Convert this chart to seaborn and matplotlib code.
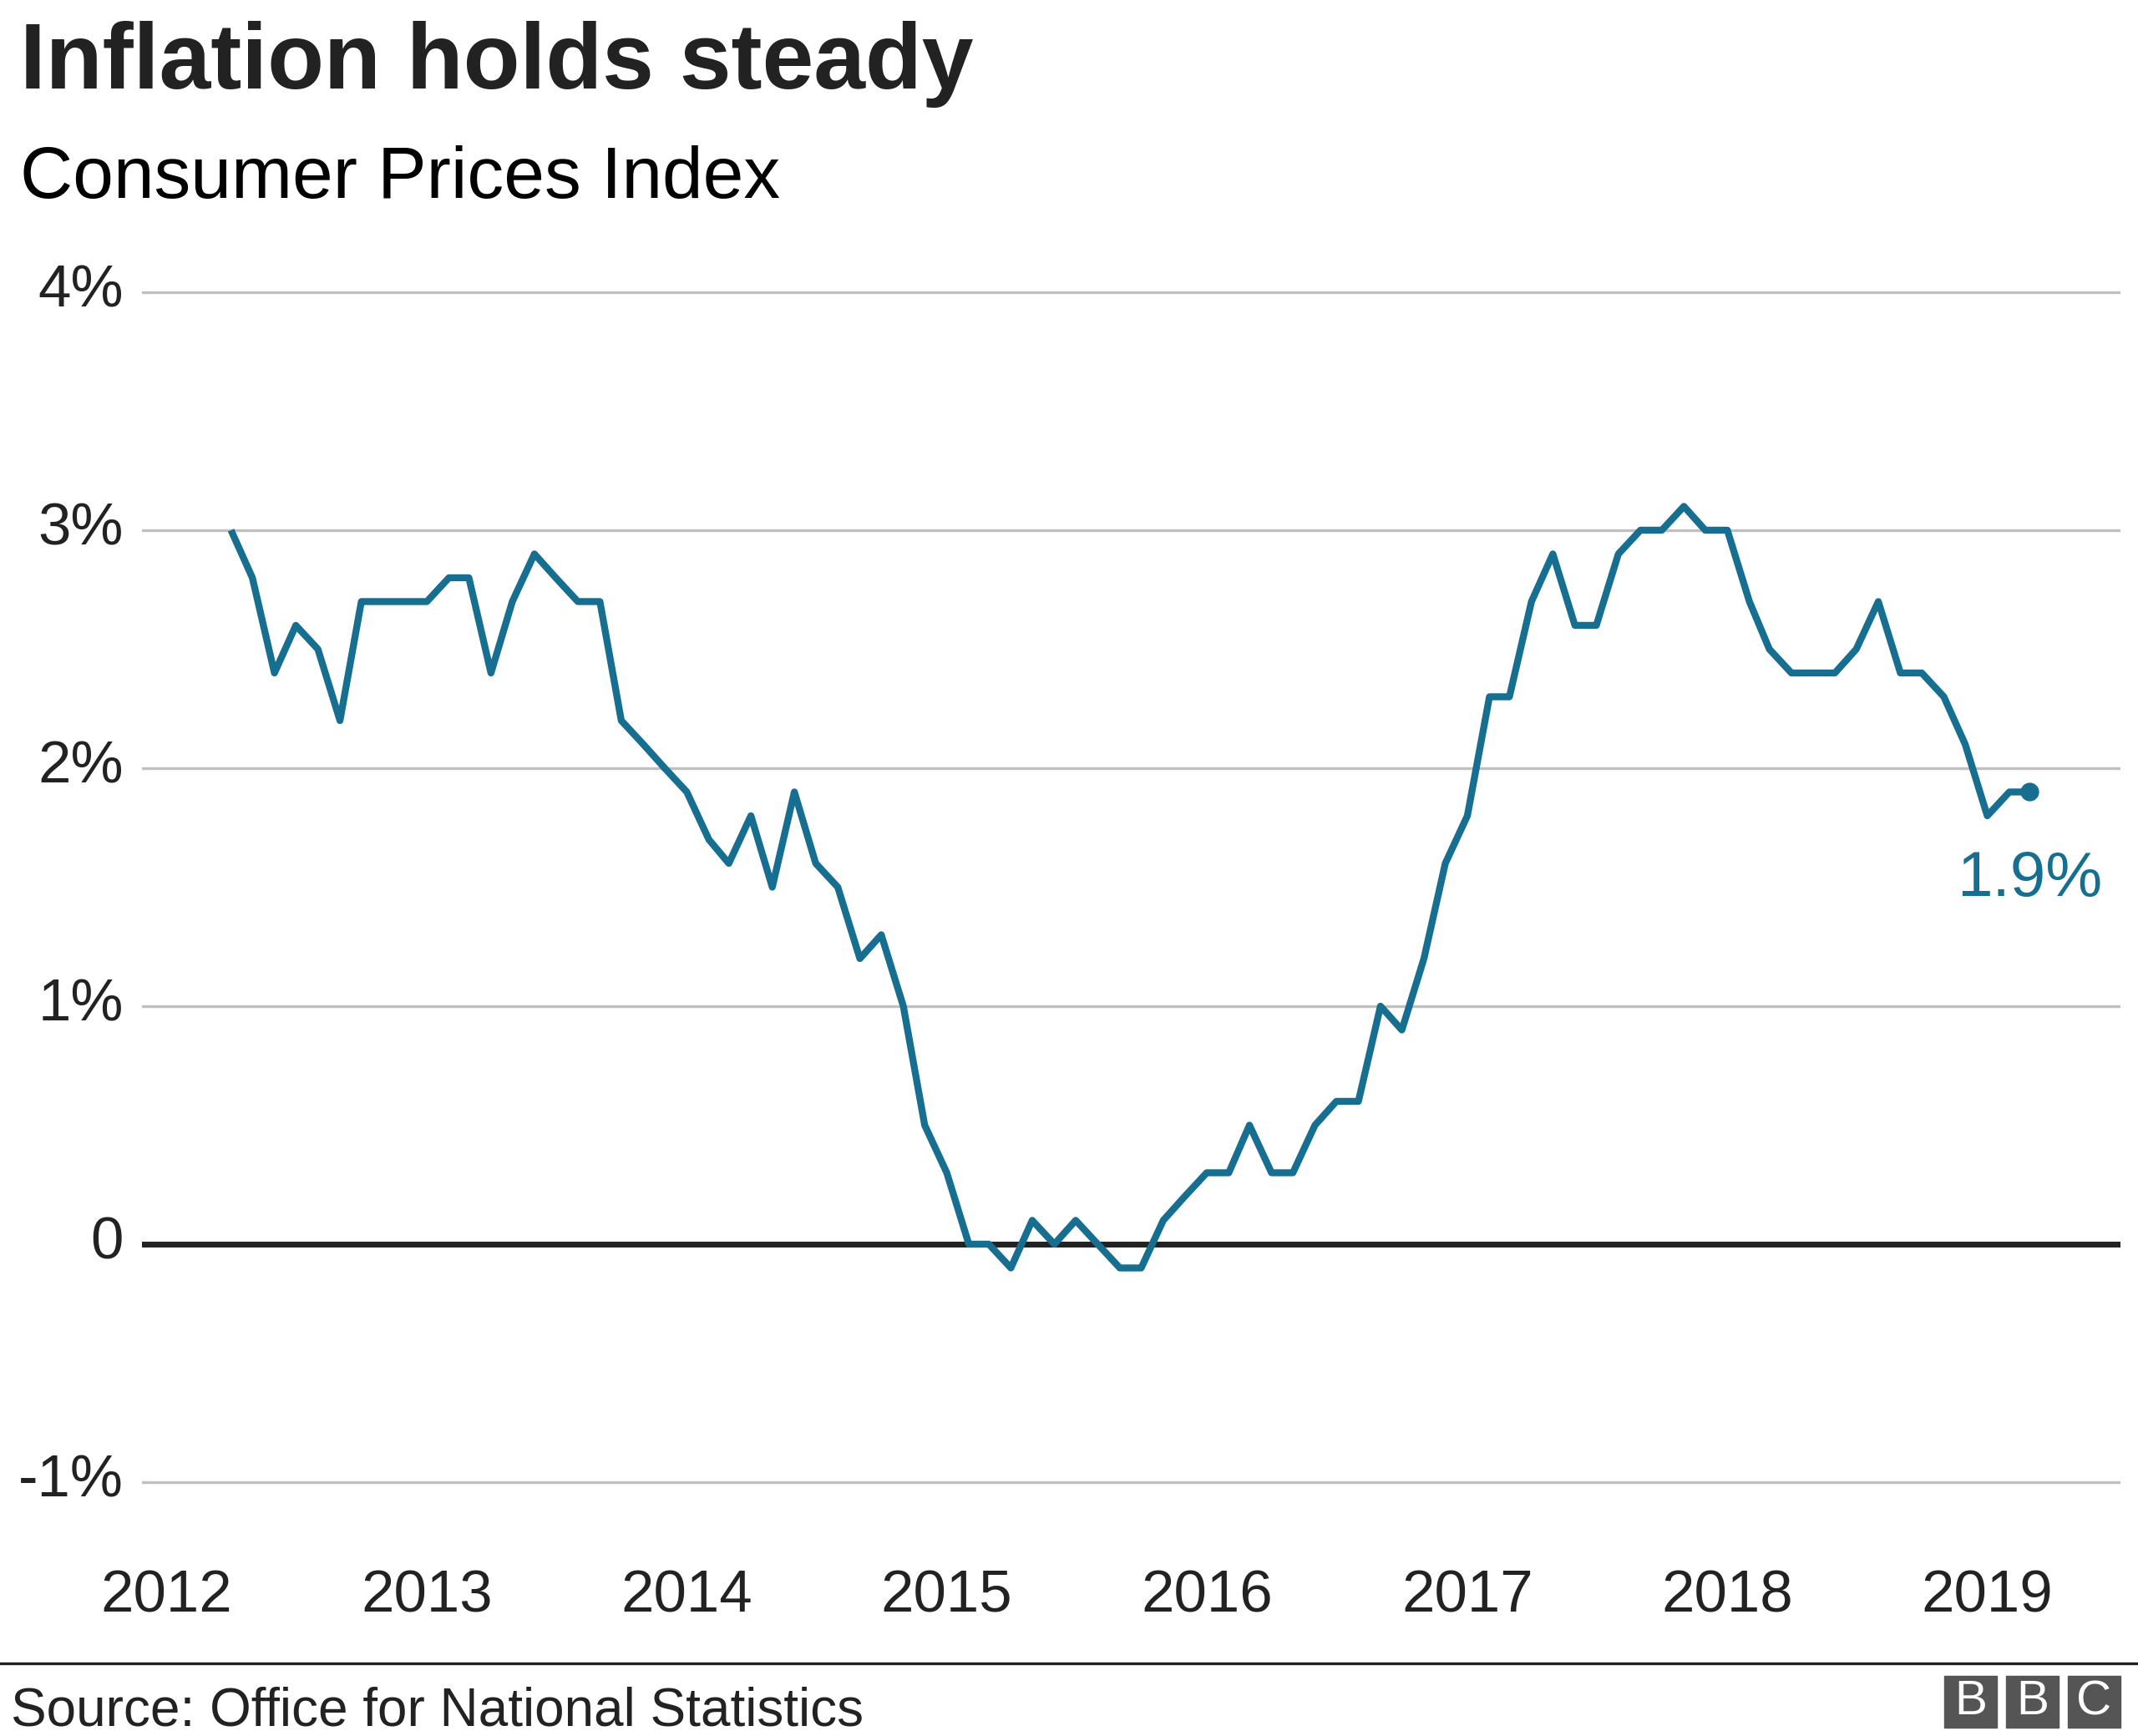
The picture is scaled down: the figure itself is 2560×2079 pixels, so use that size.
import numpy as np
import pandas as pd
import matplotlib.pyplot as plt
import seaborn as sns
from matplotlib.patches import Rectangle

# UK CPI, monthly, April 2012 - March 2019
cpi = [3.0, 2.8, 2.4, 2.6, 2.5, 2.2, 2.7, 2.7, 2.7,
       2.7, 2.8, 2.8, 2.4, 2.7, 2.9, 2.8, 2.7, 2.7, 2.2, 2.1, 2.0,
       1.9, 1.7, 1.6, 1.8, 1.5, 1.9, 1.6, 1.5, 1.2, 1.3, 1.0, 0.5,
       0.3, 0.0, 0.0, -0.1, 0.1, 0.0, 0.1, 0.0, -0.1, -0.1, 0.1, 0.2,
       0.3, 0.3, 0.5, 0.3, 0.3, 0.5, 0.6, 0.6, 1.0, 0.9, 1.2, 1.6,
       1.8, 2.3, 2.3, 2.7, 2.9, 2.6, 2.6, 2.9, 3.0, 3.0, 3.1, 3.0,
       3.0, 2.7, 2.5, 2.4, 2.4, 2.4, 2.5, 2.7, 2.4, 2.4, 2.3, 2.1,
       1.8, 1.9, 1.9]
months = pd.date_range('2012-04-01', periods=len(cpi), freq='MS')
years = [2012, 2013, 2014, 2015, 2016, 2017, 2018, 2019]
y_ticks = [-1, 0, 1, 2, 3, 4]
y_labels = ['-1%', '0', '1%', '2%', '3%', '4%']

df = pd.DataFrame({'month': months, 'cpi': cpi})

blue = '#166e91'
dark = '#222222'

sns.set_style('white')
plt.rcParams['font.family'] = ['Liberation Sans', 'DejaVu Sans']

fig = plt.figure(figsize=(25.6, 20.79), dpi=100)
ax = fig.add_axes([0.06641, 0.1051, 0.92539, 0.7403])

sns.lineplot(data=df, x='month', y='cpi', ax=ax, color=blue, linewidth=6,
             solid_joinstyle='round', solid_capstyle='butt', zorder=4)
last = df.iloc[-1]
ax.plot([last['month']], [last['cpi']], 'o', color=blue, markersize=15, zorder=5)
ax.annotate(f"{last['cpi']:.1f}%", xy=(last['month'], last['cpi']),
            xytext=(0, -50), textcoords='offset points', ha='center', va='top',
            fontsize=55, color=blue)

ax.axhline(0, color=dark, linewidth=5, zorder=3)
ax.set_ylim(-1.3, 4.1)
ax.set_xlim(pd.Timestamp('2011-11-28'), pd.Timestamp('2019-07-07'))
ax.set_yticks(y_ticks)
ax.set_yticklabels(y_labels)
ax.set_xticks([pd.Timestamp(f'{y}-01-01') for y in years])
ax.set_xticklabels([str(y) for y in years])
ax.tick_params(axis='y', length=0, pad=16, labelsize=51, labelcolor=dark)
ax.tick_params(axis='x', length=0, pad=14, labelsize=51, labelcolor=dark)
for lbl in ax.get_yticklabels():
    lbl.set_verticalalignment('center')
ax.yaxis.grid(True, color='#c0c0c0', linewidth=2.4)
ax.xaxis.grid(False)
ax.set_xlabel('')
ax.set_ylabel('')
sns.despine(ax=ax, left=True, bottom=True)

fig.text(0.0094, 0.949, 'Inflation holds steady', fontsize=80, fontweight='bold',
         color=dark, va='baseline')
fig.text(0.0094, 0.886, 'Consumer Prices Index', fontsize=63, color='black',
         va='baseline')

fig.add_artist(plt.Line2D([0, 1], [0.0418, 0.0418], color=dark, linewidth=2.4,
                          transform=fig.transFigure))
fig.text(0.005, 0.00625, 'Source: Office for National Statistics', fontsize=46,
         color=dark, va='baseline')

# BBC blocks
W, H = 2560, 2079
for i, letter in enumerate('BBC'):
    x0 = 2328 + i * 74
    fig.patches.append(Rectangle((x0 / W, (H - 2069) / H), 63 / W, 62 / H,
                                 transform=fig.transFigure, color='#555555'))
    fig.text((x0 + 31.5) / W, (H - 2038) / H, letter, fontsize=42,
             color='white', ha='center', va='center')

fig.savefig('out.png', dpi=100)
